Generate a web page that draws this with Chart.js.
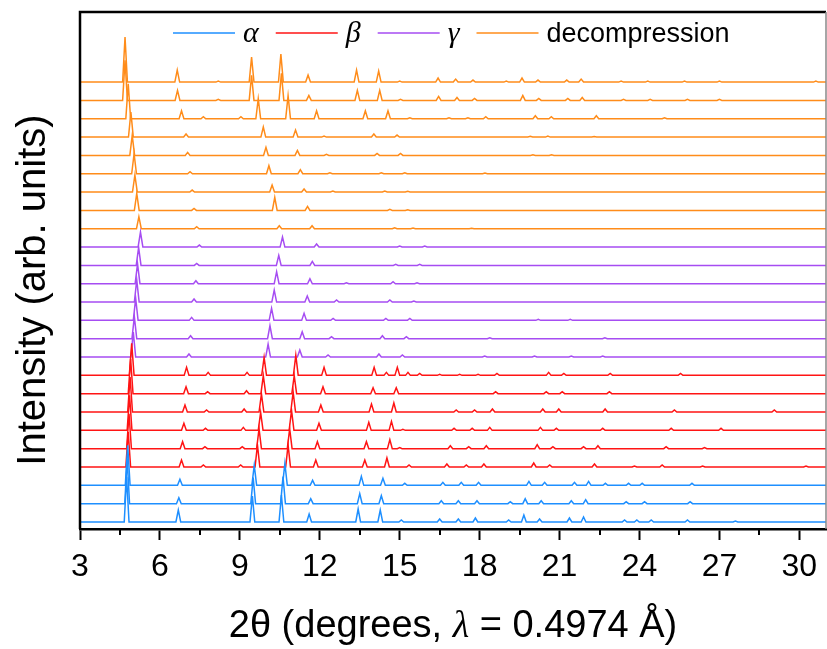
<!DOCTYPE html>
<html><head><meta charset="utf-8">
<script src="https://cdn.jsdelivr.net/npm/chart.js@4.4.0/dist/chart.umd.min.js"></script>
<style>html,body{margin:0;padding:0;background:#fff}#wrap{width:827px;height:649px;position:relative}</style>
</head><body><div id="wrap"><canvas id="c" width="827" height="649"></canvas></div>
<script>
// ---- data (peak position in degrees 2θ, peak height in arb. units) ----
const xTickValues = [3, 6, 9, 12, 15, 18, 21, 24, 27, 30];
const seriesNames = ['α', 'β', 'γ', 'decompression'];

const alphaPatterns = [
  [[4.75,45],[6.69,12],[9.47,26],[10.56,27],[11.6,8],[13.44,13],[14.27,12],[15.06,2],[16.5,3],[17.2,3],[17.84,4],[19.09,2],[19.66,7],[20.25,3],[21.37,4],[21.9,5],[23.44,2],[23.9,2],[24.44,2],[25.8,2],[27.6,1]],
  [[4.77,45],[6.71,6],[9.5,26],[10.62,27],[11.66,5],[13.5,10],[14.31,8],[16.56,3],[17.2,3],[17.9,3],[19.15,2],[19.71,5],[20.31,3],[21.44,3],[21.98,4],[23.5,2],[24.19,2],[25.9,2]],
  [[4.79,40],[6.75,6],[9.54,20],[10.69,22],[11.73,5],[13.56,9],[14.37,7],[15.19,2],[16.62,3],[17.31,3],[17.96,3],[19.85,4],[20.44,3],[21.56,3],[22.09,4],[22.72,2],[23.59,2],[24.1,2],[25.97,2]]
];
const betaPatterns = [
  [[4.81,35],[6.81,7],[7.63,2],[9.03,2],[9.66,22],[10.81,22],[11.85,7],[13.69,7],[14.52,9],[15.35,2],[16.77,3],[17.5,2],[18.16,3],[20.03,4],[20.63,2],[22.31,3],[23.81,1],[24.85,2],[26.37,1],[30.25,1]],
  [[4.84,35],[6.85,7],[7.69,2],[9.09,2],[9.72,20],[10.87,20],[11.91,7],[13.75,7],[14.63,9],[15.0,1],[16.9,3],[17.59,2],[18.25,3],[20.16,4],[20.75,2],[21.9,2],[22.44,3],[25.0,2],[26.44,1]],
  [[4.86,35],[6.9,7],[7.71,2],[9.13,3],[9.78,18],[10.94,20],[11.97,7],[13.84,8],[14.69,9],[15.12,1],[17.04,2],[17.72,2],[18.38,3],[20.28,3],[20.88,2],[22.62,2],[25.19,2],[27.06,2]],
  [[4.88,35],[6.94,7],[7.75,2],[9.16,3],[9.81,18],[11.0,20],[12.04,7],[13.94,8],[14.78,9],[17.12,2],[17.81,2],[18.48,3],[20.37,3],[20.97,3],[22.71,3],[25.31,2],[29.06,2]],
  [[4.9,35],[6.98,7],[7.79,2],[9.25,3],[9.88,18],[11.04,18],[12.12,7],[14.0,6],[14.87,6],[18.6,2],[20.5,2],[21.1,2],[22.87,2]],
  [[4.94,32],[7.0,8],[7.81,3],[9.27,3],[9.91,18],[11.1,20],[12.16,8],[14.04,8],[14.5,3],[14.91,8],[15.31,3],[15.75,2],[16.5,1],[17.25,1],[17.94,1],[18.65,2],[20.59,3],[21.16,2],[22.9,2],[25.54,2]]
];
const gammaPatterns = [
  [[5.0,25],[7.09,3],[10.06,13],[11.25,7],[12.31,2],[14.22,3],[15.1,2],[18.19,1],[20.06,1],[21.44,1],[22.62,1]],
  [[5.04,22],[7.15,3],[10.13,13],[11.34,7],[12.44,2],[14.35,3],[15.25,2],[18.38,1],[22.7,1]],
  [[5.09,22],[7.19,3],[10.19,12],[11.41,7],[12.5,2],[14.48,2],[15.38,2],[20.2,1],[21.4,1]],
  [[5.13,22],[7.28,3],[10.29,12],[11.53,6],[12.63,2],[14.63,2],[15.53,1]],
  [[5.16,20],[7.35,3],[10.38,12],[11.63,5],[13.0,1],[14.75,2],[15.65,1]],
  [[5.2,18],[7.38,2],[10.46,10],[11.72,4],[14.85,1],[15.75,1]],
  [[5.27,15],[7.48,2],[10.6,10],[11.88,3],[15.0,1],[15.94,1]]
];
const decompressionPatterns = [
  [[5.21,12],[7.38,2],[10.48,3],[11.71,3],[14.81,1],[15.5,0.7],[17.7,0.5]],
  [[5.13,17],[7.28,2],[10.31,13],[11.54,4],[14.63,1],[15.3,0.7]],
  [[5.06,17],[7.21,2],[10.21,7],[11.41,3],[12.49,1],[14.44,1],[15.3,0.7]],
  [[5.03,20],[7.13,2],[10.09,8],[11.27,4],[12.38,1],[14.31,1],[15.19,1],[18.2,0.6]],
  [[4.96,20],[7.04,3],[9.98,8],[11.16,5],[12.25,1],[14.15,2],[15.03,2],[20.0,0.7],[20.7,0.7]],
  [[4.91,25],[6.98,3],[9.88,10],[11.09,7],[12.16,1],[14.03,3],[14.9,2],[19.9,0.7],[20.56,1],[22.3,0.6]],
  [[4.81,35],[6.81,8],[7.63,2],[9.04,2],[9.69,20],[10.81,23],[11.88,8],[13.71,8],[14.56,8],[15.38,1],[16.85,1],[17.56,1],[18.23,2],[20.09,3],[20.69,2],[22.38,3],[24.94,1]],
  [[4.69,40],[6.66,10],[8.19,1],[9.44,25],[10.56,27],[11.59,5],[13.41,10],[14.25,10],[15.03,1],[16.46,4],[17.15,3],[17.81,2],[19.62,5],[20.22,2],[21.31,2],[21.85,3],[23.4,1],[24.4,1],[25.8,1],[27.0,1]],
  [[4.69,45],[6.65,12],[8.19,1],[9.44,25],[10.54,28],[11.56,7],[13.38,12],[14.21,11],[15.0,1],[16.44,4],[17.1,3],[17.75,2],[19.0,1],[19.59,4],[20.19,2],[21.27,2],[21.81,3],[23.31,1],[24.31,1],[25.69,1],[27.0,1],[30.62,1]]
];

// ---- styling / layout ----
const X_MIN = 3, X_MAX = 31;
const TRACE_OFFSET = 18.33;   // vertical stacking step (arb. units)
const PEAK_HALF_WIDTH = 0.09; // degrees
const seriesColors = ['#1e8fff', '#ff1414', '#a64df2', '#ff8c1a'];
const groups = [alphaPatterns, betaPatterns, gammaPatterns, decompressionPatterns];

const datasets = [];
let traceIndex = 0;
groups.forEach((patterns, g) => {
  patterns.forEach(peaks => {
    const base = traceIndex * TRACE_OFFSET;
    const pts = [{x: X_MIN, y: base}];
    peaks.slice().sort((a, b) => a[0] - b[0]).forEach(([pos, h]) => {
      pts.push({x: pos - PEAK_HALF_WIDTH, y: base});
      pts.push({x: pos, y: base + h});
      pts.push({x: pos + PEAK_HALF_WIDTH, y: base});
    });
    pts.push({x: X_MAX, y: base});
    datasets.push({
      label: seriesNames[g], data: pts, borderColor: seriesColors[g],
      borderWidth: 1.5, pointRadius: 0, tension: 0, fill: false
    });
    traceIndex++;
  });
});

const SANS = "'Liberation Sans', Arial, Helvetica, sans-serif";
const SERIF = "'Liberation Serif', 'Times New Roman', serif";

const decorPlugin = {
  id: 'decor',
  afterDraw(chart) {
    const ctx = chart.ctx, a = chart.chartArea, xs = chart.scales.x;
    ctx.save();
    // frame
    ctx.strokeStyle = '#000'; ctx.lineWidth = 2.5;
    ctx.beginPath(); ctx.moveTo(a.left, a.bottom); ctx.lineTo(a.left, a.top); ctx.lineTo(a.right, a.top); ctx.stroke();
    ctx.strokeStyle = '#888'; ctx.lineWidth = 1.5;
    ctx.beginPath(); ctx.moveTo(a.right, a.top); ctx.lineTo(a.right, a.bottom); ctx.stroke();
    // minor ticks
    ctx.strokeStyle = '#000'; ctx.lineWidth = 2;
    ctx.beginPath();
    for (let v = X_MIN + 1.5; v < X_MAX; v += 3) {
      const px = Math.round(xs.getPixelForValue(v));
      ctx.moveTo(px, a.bottom); ctx.lineTo(px, a.bottom + 6);
    }
    ctx.stroke();
    // legend
    let x = 173;
    const lineY = 33, textY = 42;
    seriesNames.forEach((name, i) => {
      ctx.strokeStyle = seriesColors[i]; ctx.lineWidth = 1.5;
      ctx.beginPath(); ctx.moveTo(x, lineY); ctx.lineTo(x + 62, lineY); ctx.stroke();
      ctx.fillStyle = '#000'; ctx.textBaseline = 'alphabetic'; ctx.textAlign = 'left';
      ctx.font = i < 3 ? ('italic 30px ' + SERIF) : ('27px ' + SANS);
      const tx = x + 62 + 8;
      ctx.fillText(name, tx, textY);
      x = tx + ctx.measureText(name).width + 17;
    });
    // x title with italic lambda
    const parts = [
      {t: '2θ (degrees, ', f: '38px ' + SANS},
      {t: 'λ', f: 'italic 38px ' + SERIF},
      {t: ' = 0.4974 Å)', f: '38px ' + SANS}
    ];
    let total = 0;
    parts.forEach(p => { ctx.font = p.f; p.w = ctx.measureText(p.t).width; total += p.w; });
    let px = (a.left + a.right) / 2 - total / 2;
    parts.forEach(p => { ctx.font = p.f; ctx.fillText(p.t, px, 637); px += p.w; });
    // y title
    ctx.translate(45, 290); ctx.rotate(-Math.PI / 2);
    ctx.font = '40px ' + SANS; ctx.textAlign = 'center';
    ctx.fillText('Intensity (arb. units)', 0, 0);
    ctx.restore();
  }
};

new Chart(document.getElementById('c'), {
  type: 'line',
  data: { datasets },
  options: {
    responsive: false, animation: false, events: [],
    layout: { padding: { left: 80, right: 1, top: 12, bottom: 0 } },
    plugins: { legend: { display: false }, tooltip: { enabled: false } },
    scales: {
      x: {
        type: 'linear', min: X_MIN, max: X_MAX,
        afterFit(s) { s.height = 120; },
        afterBuildTicks(s) { s.ticks = xTickValues.map(v => ({value: v})); },
        ticks: { font: { family: SANS, size: 32 }, color: '#000', padding: 8, maxRotation: 0, autoSkip: false,
                 callback: v => String(v) },
        grid: { drawOnChartArea: false, tickLength: 11, tickWidth: 2, tickColor: '#000' },
        border: { display: true, color: '#000', width: 2.5 }
      },
      y: { type: 'linear', min: -7, max: 510, display: false }
    }
  },
  plugins: [decorPlugin]
});
</script></body></html>
